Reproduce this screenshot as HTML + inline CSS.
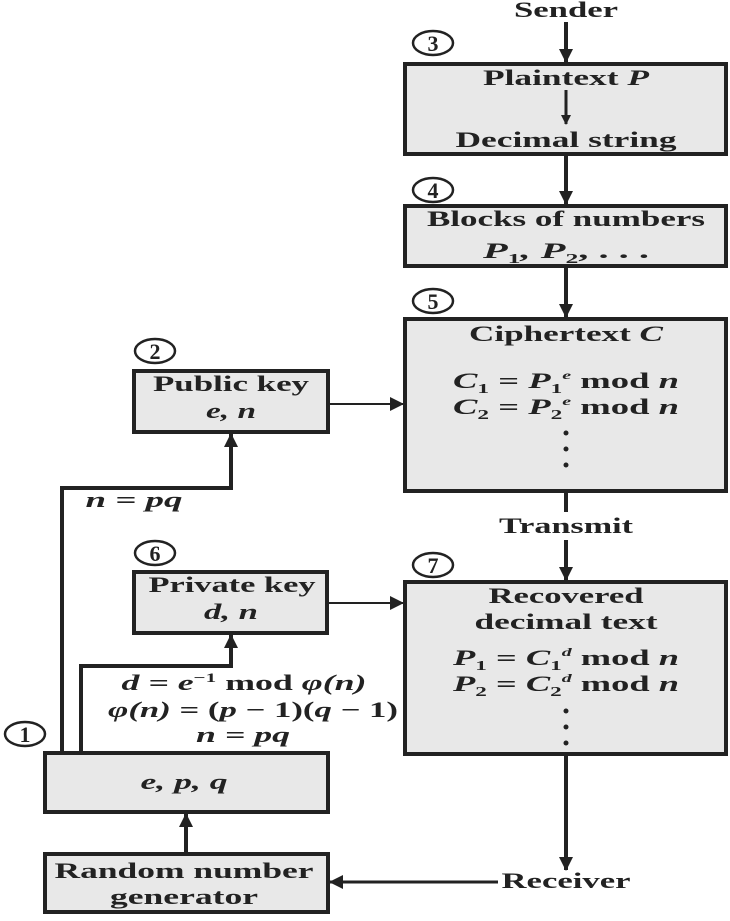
<!DOCTYPE html>
<html><head><style>
body{margin:0;background:#fff;}
svg text{font-family:"Liberation Serif",serif;font-weight:bold;fill:#222;}
</style></head><body>
<svg width="730" height="916" viewBox="0 0 730 916" xmlns="http://www.w3.org/2000/svg">
<defs><marker id="a" markerWidth="10" markerHeight="10" refX="9" refY="5" orient="auto" markerUnits="userSpaceOnUse"><path d="M0,0 L10,5 L0,10 Z" fill="#222"/></marker>
<marker id="b" markerWidth="14" markerHeight="14" refX="13" refY="7" orient="auto" markerUnits="userSpaceOnUse"><path d="M0,0 L14,7 L0,14 Z" fill="#222"/></marker></defs>
<g fill="#e8e8e8" stroke="#222" stroke-width="4">
<rect x="405" y="64" width="321" height="90"/>
<rect x="405" y="206" width="321" height="60"/>
<rect x="405" y="319" width="321" height="172"/>
<rect x="405" y="582" width="321" height="172"/>
<rect x="134" y="371" width="194" height="61"/>
<rect x="134" y="572" width="193" height="61"/>
<rect x="45" y="753" width="283" height="59"/>
<rect x="45" y="854" width="283" height="58"/>
</g>
<g fill="none" stroke="#222" stroke-width="4">
<line x1="566" y1="22" x2="566" y2="62" marker-end="url(#b)"/>
<line x1="566" y1="90" x2="566" y2="124" stroke-width="3" marker-end="url(#a)"/>
<line x1="566" y1="156" x2="566" y2="204" marker-end="url(#b)"/>
<line x1="566" y1="268" x2="566" y2="317" marker-end="url(#b)"/>
<line x1="566" y1="493" x2="566" y2="512"/>
<line x1="566" y1="540" x2="566" y2="580" marker-end="url(#b)"/>
<line x1="566" y1="756" x2="566" y2="870" marker-end="url(#b)"/>
<line x1="498" y1="882" x2="330" y2="882" stroke-width="3" marker-end="url(#b)"/>
<line x1="330" y1="404" x2="403" y2="404" stroke-width="2" marker-end="url(#b)"/>
<line x1="329" y1="603" x2="403" y2="603" stroke-width="2" marker-end="url(#b)"/>
<polyline points="62,751 62,488 231,488 231,434" marker-end="url(#b)"/>
<polyline points="81,751 81,666 231,666 231,635" marker-end="url(#b)"/>
<line x1="186" y1="852" x2="186" y2="814" marker-end="url(#b)"/>
</g>
<g fill="none" stroke="#222" stroke-width="2.5">
<ellipse cx="433" cy="43" rx="20" ry="12"/>
<ellipse cx="433" cy="190" rx="20" ry="12"/>
<ellipse cx="433" cy="301" rx="20" ry="12"/>
<ellipse cx="155" cy="351" rx="20" ry="12"/>
<ellipse cx="155" cy="553" rx="20" ry="12"/>
<ellipse cx="433" cy="565" rx="20" ry="12"/>
<ellipse cx="25" cy="734" rx="20" ry="12"/>
</g>
<g font-size="22" text-anchor="middle">
<text x="433" y="51">3</text><text x="433" y="198">4</text><text x="433" y="309">5</text>
<text x="155" y="359">2</text><text x="155" y="561">6</text><text x="433" y="573">7</text><text x="25" y="742">1</text>
</g>
<g font-size="22" text-anchor="middle">
<text x="566" y="17" textLength="104" lengthAdjust="spacingAndGlyphs">Sender</text>
<text x="566" y="85" textLength="166" lengthAdjust="spacingAndGlyphs">Plaintext <tspan font-style="italic">P</tspan></text>
<text x="566" y="147" textLength="221" lengthAdjust="spacingAndGlyphs">Decimal string</text>
<text x="566" y="226" textLength="278" lengthAdjust="spacingAndGlyphs">Blocks of numbers</text>
<text x="566" y="258" textLength="166" lengthAdjust="spacingAndGlyphs" font-style="italic">P<tspan font-size="14" dy="5" font-style="normal">1</tspan><tspan dy="-5">, P</tspan><tspan font-size="14" dy="5" font-style="normal">2</tspan><tspan dy="-5" font-style="normal">, . . .</tspan></text>
<text x="566" y="341" textLength="194" lengthAdjust="spacingAndGlyphs">Ciphertext <tspan font-style="italic">C</tspan></text>
<text x="566" y="388" textLength="226" lengthAdjust="spacingAndGlyphs"><tspan font-style="italic">C</tspan><tspan font-size="14" dy="5">1</tspan><tspan dy="-5"> = </tspan><tspan font-style="italic">P</tspan><tspan font-size="14" dy="5">1</tspan><tspan font-size="12" dy="-14" font-style="italic">e</tspan><tspan dy="9"> mod </tspan><tspan font-style="italic">n</tspan></text>
<text x="566" y="414" textLength="226" lengthAdjust="spacingAndGlyphs"><tspan font-style="italic">C</tspan><tspan font-size="14" dy="5">2</tspan><tspan dy="-5"> = </tspan><tspan font-style="italic">P</tspan><tspan font-size="14" dy="5">2</tspan><tspan font-size="12" dy="-14" font-style="italic">e</tspan><tspan dy="9"> mod </tspan><tspan font-style="italic">n</tspan></text>
<text x="566" y="533" textLength="134" lengthAdjust="spacingAndGlyphs">Transmit</text>
<text x="566" y="603" textLength="155" lengthAdjust="spacingAndGlyphs">Recovered</text>
<text x="566" y="629" textLength="183" lengthAdjust="spacingAndGlyphs">decimal text</text>
<text x="566" y="665" textLength="226" lengthAdjust="spacingAndGlyphs"><tspan font-style="italic">P</tspan><tspan font-size="14" dy="5">1</tspan><tspan dy="-5"> = </tspan><tspan font-style="italic">C</tspan><tspan font-size="14" dy="5">1</tspan><tspan font-size="12" dy="-14" font-style="italic">d</tspan><tspan dy="9"> mod </tspan><tspan font-style="italic">n</tspan></text>
<text x="566" y="691" textLength="226" lengthAdjust="spacingAndGlyphs"><tspan font-style="italic">P</tspan><tspan font-size="14" dy="5">2</tspan><tspan dy="-5"> = </tspan><tspan font-style="italic">C</tspan><tspan font-size="14" dy="5">2</tspan><tspan font-size="12" dy="-14" font-style="italic">d</tspan><tspan dy="9"> mod </tspan><tspan font-style="italic">n</tspan></text>
<text x="566" y="888" textLength="129" lengthAdjust="spacingAndGlyphs">Receiver</text>
<text x="231" y="391" textLength="156" lengthAdjust="spacingAndGlyphs">Public key</text>
<text x="231" y="418" textLength="50" lengthAdjust="spacingAndGlyphs" font-style="italic">e, n</text>
<text x="232" y="592" textLength="167" lengthAdjust="spacingAndGlyphs">Private key</text>
<text x="231" y="619" textLength="54" lengthAdjust="spacingAndGlyphs" font-style="italic">d, n</text>
<text x="184" y="789" textLength="87" lengthAdjust="spacingAndGlyphs" font-style="italic">e, p, q</text>
<text x="184" y="878" textLength="259" lengthAdjust="spacingAndGlyphs">Random number</text>
<text x="184" y="904" textLength="148" lengthAdjust="spacingAndGlyphs">generator</text>
<text x="134" y="507" textLength="97" lengthAdjust="spacingAndGlyphs" font-style="italic">n = pq</text>
<text x="244" y="690" textLength="245" lengthAdjust="spacingAndGlyphs"><tspan font-style="italic">d = e</tspan><tspan font-size="13" dy="-8">−1</tspan><tspan dy="8"> mod </tspan><tspan font-style="italic">φ(n)</tspan></text>
<text x="253" y="717" textLength="290" lengthAdjust="spacingAndGlyphs"><tspan font-style="italic">φ(n)</tspan> = (<tspan font-style="italic">p</tspan> − 1)(<tspan font-style="italic">q</tspan> − 1)</text>
<text x="243" y="742" textLength="94" lengthAdjust="spacingAndGlyphs" font-style="italic">n = pq</text>
</g>
<g fill="#222">
<circle cx="566" cy="433" r="2.5"/><circle cx="566" cy="449" r="2.5"/><circle cx="566" cy="465" r="2.5"/>
<circle cx="566" cy="711" r="2.5"/><circle cx="566" cy="727" r="2.5"/><circle cx="566" cy="743" r="2.5"/>
</g>
</svg>
</body></html>
